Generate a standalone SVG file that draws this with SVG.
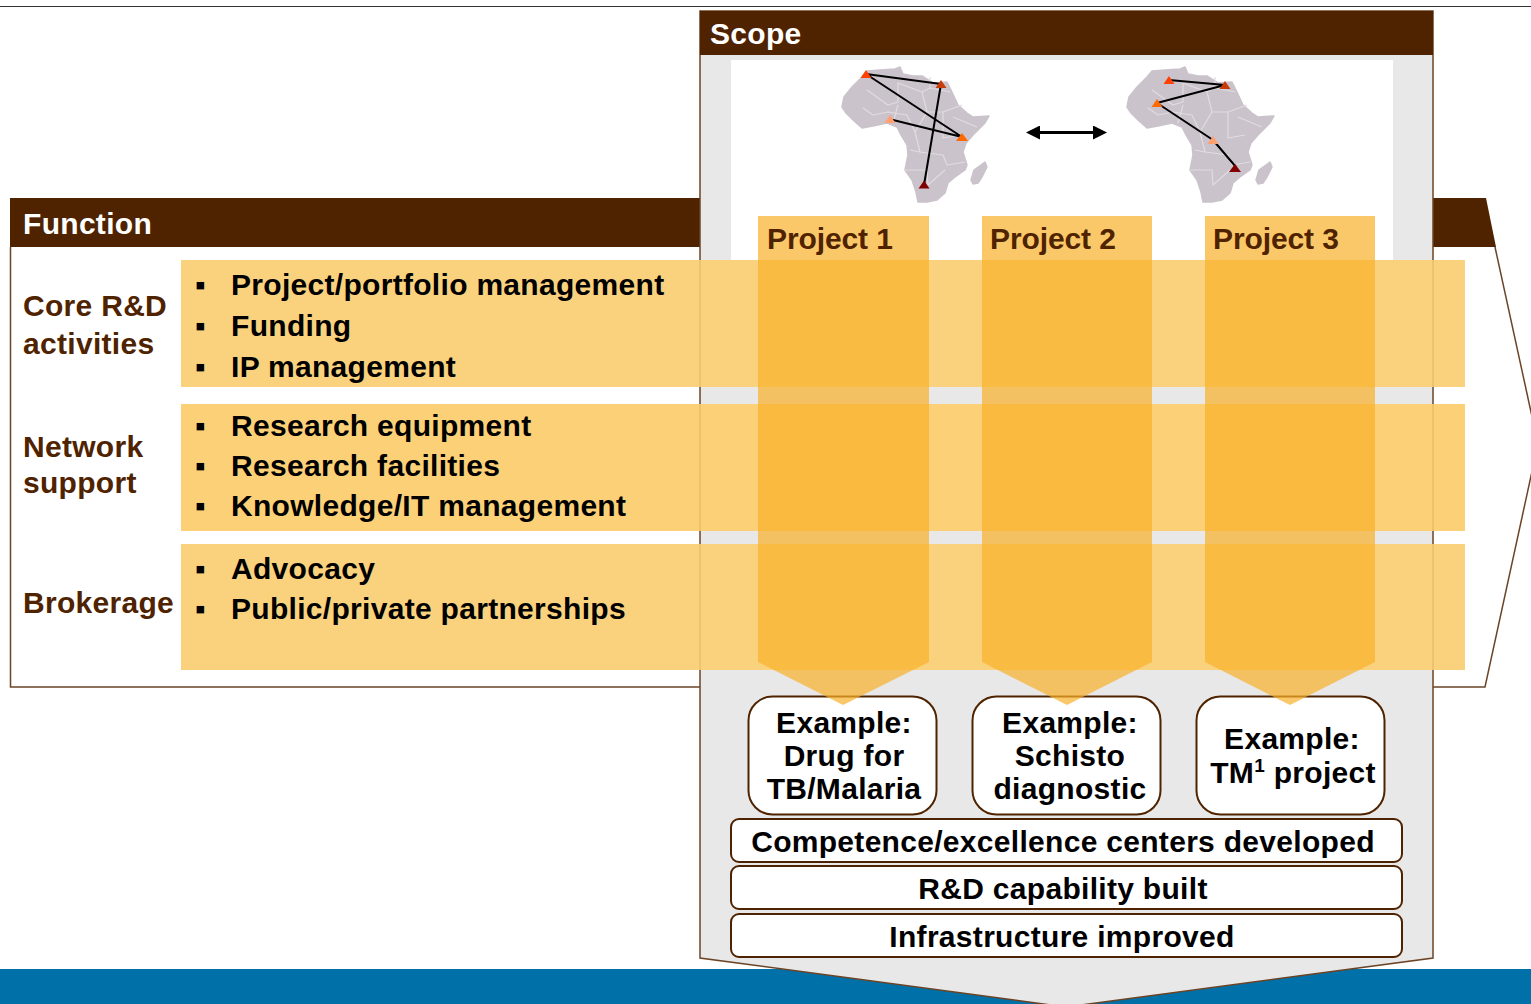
<svg xmlns="http://www.w3.org/2000/svg" width="1531" height="1004" viewBox="0 0 1531 1004">
<style>
text{font-family:"Liberation Sans",Arial,sans-serif;font-weight:700;letter-spacing:.3px}
.hd{fill:#fff;font-size:30px}
.cat{fill:#4f2300;font-size:30px}
.pl{fill:#4f2300;font-size:30px;letter-spacing:-.1px}
.it{fill:#000;font-size:30px}
.c{fill:#000;font-size:30px;text-anchor:middle}
.box{fill:#fff;stroke:#4f2300;stroke-width:2}
.band{fill:#fad27e}
.band2{fill:#fcd077}
.proj{fill:#fab02a;fill-opacity:.7}
.link{stroke:#000;stroke-width:2;fill:none}
.land{fill:#cbc3cb;stroke:#cbc3cb;stroke-width:1.500;stroke-linejoin:round}
.border{fill:none;stroke:#e0dce0;stroke-width:1.200;stroke-linejoin:round}
</style>
<defs>
<g id="africa">
<path class="land" d="M862 77 867 71 880 70 895 69 900 67 903 74 913 76 922 76 933 83 947 82 951 90 958 105 967 113 973 117 989 116 985 123 973 135 966 143 963 152 967 165 965 170 955 177 948 183 945 193 937 200 927 202 918 202 916 192 912 180 905 170 908 155 907 145 900 133 897 127 887 123 873 126 862 128 853 120 846 113 842 107 844 97 852 87Z"/>
<path class="land" d="M985 162 987 167 982 177 978 183 973 184 971 180 974 170Z"/>
<path class="border" d="M867 90 888 105 898 102 898 83 922 92 930 88 930 77M930 88 950 92M922 92 927 112 943 112 962 105M927 112 915 132 920 152 910 150M943 112 943 138 960 135M953 117 977 127M863 108 873 115 888 112 907 115 915 132M920 152 943 155 947 165 965 162M905 170 927 170 928 185 945 170M893 123 898 105"/>
</g>
<marker id="ah" markerUnits="userSpaceOnUse" markerWidth="14" markerHeight="14" viewBox="0 0 14 14" refX="7" refY="7" orient="auto-start-reverse"><path d="M0 0 14 7 0 14Z" fill="#000"/></marker>
</defs>
<path d="M0 6.500H1531" stroke="#333" stroke-width="1"/>
<rect x="0" y="969" width="1531" height="35" fill="#0070a8"/>
<g id="function">
<path d="M10.500 247V687H1485L1538 444 1495 247" fill="#fff" stroke="#6b4426" stroke-width="1.500"/>
<path d="M10 198H1486L1496 247H10Z" fill="#4f2300"/>
<text class="hd" x="23" y="234">Function</text>
</g>
<g id="scope">
<path d="M700 11H1433V958L1066 1007 700 958Z" fill="#e8e8e8" stroke="#6b4426" stroke-width="1.500"/>
<rect x="700" y="11" width="733" height="44" fill="#4f2300"/>
<rect x="731" y="60" width="662" height="200" fill="#fff"/>
<text class="hd" x="710" y="44">Scope</text>
</g>
<g id="maps">
<use href="#africa"/>
<use href="#africa" x="285"/>
</g>
<g id="connectors">
<path class="link" d="M866 74 941 84 M866 74 962 137 M889 119 962 137 M941 84 924 185"/>
<path class="link" d="M1169 80 1225 85 M1225 85 1157 103 M1157 103 1213 140 M1213 140 1236 167"/>
<path d="M1033 132.500H1100" stroke="#000" stroke-width="3" marker-start="url(#ah)" marker-end="url(#ah)"/>
</g>
<g id="triangles">
<path d="M866 70 871.500 78 860.500 78Z" fill="#ff4000"/><path d="M941 80 946.500 88 935.500 88Z" fill="#c83c0a"/><path d="M962 133 968 141 956 141Z" fill="#ff6a00"/><path d="M890 115 895.500 123 884.500 123Z" fill="#ffa070"/><path d="M924 180.500 929.500 188.500 918.500 188.500Z" fill="#800000"/>
<path d="M1169 76 1174.500 84 1163.500 84Z" fill="#ff4000"/><path d="M1225 81 1230.500 89 1219.500 89Z" fill="#c83c0a"/><path d="M1157 99 1162.500 107 1151.500 107Z" fill="#ff6a00"/><path d="M1213 136 1218.500 144 1207.500 144Z" fill="#ffa070"/><path d="M1235 164 1241 172 1229 172Z" fill="#800000"/>
</g>
<g id="examples">
<rect class="box" x="748.500" y="696.500" width="188" height="118" rx="24"/>
<rect class="box" x="972.500" y="696.500" width="188" height="118" rx="24"/>
<rect class="box" x="1196.500" y="696.500" width="188" height="118" rx="24"/>
<text class="c" x="844" y="733">Example:</text><text class="c" x="844" y="766">Drug for</text><text class="c" x="844" y="799">TB/Malaria</text>
<text class="c" x="1070" y="733">Example:</text><text class="c" x="1070" y="766">Schisto</text><text class="c" x="1070" y="799">diagnostic</text>
<text class="c" x="1292" y="749">Example:</text><text class="c" x="1293" y="783">TM<tspan font-size="19" dy="-11">1</tspan><tspan dy="11"> project</tspan></text>
</g>
<g id="outcomes">
<rect class="box" x="731" y="819" width="671" height="43" rx="8"/>
<rect class="box" x="731" y="866" width="671" height="43" rx="8"/>
<rect class="box" x="731" y="914" width="671" height="43" rx="8"/>
<text class="c" x="1063" y="852">Competence/excellence centers developed</text>
<text class="c" x="1063" y="899">R&amp;D capability built</text>
<text class="c" x="1062" y="947">Infrastructure improved</text>
</g>
<g id="bands">
<rect class="band" x="181" y="260" width="1284" height="127"/>
<rect class="band2" x="181" y="404" width="1284" height="127"/>
<rect class="band" x="181" y="544" width="1284" height="126"/>
<path d="M700 260V387M1433 260V387M700 404V531M1433 404V531M700 544V670M1433 544V670" stroke="#c89a4a" stroke-opacity=".35" stroke-width="1.500"/>
</g>
<g id="projects">
<path class="proj" d="M758 216H929V662L843 705 758 662Z"/>
<path class="proj" d="M982 216H1152V662L1067 705 982 662Z"/>
<path class="proj" d="M1205 216H1375V662L1290 705 1205 662Z"/>
<text class="pl" x="767" y="249">Project 1</text>
<text class="pl" x="990" y="249">Project 2</text>
<text class="pl" x="1213" y="249">Project 3</text>
</g>
<g id="labels">
<text class="cat" x="23" y="316">Core R&amp;D</text><text class="cat" x="23" y="354">activities</text>
<text class="cat" x="23" y="457">Network</text><text class="cat" x="23" y="493">support</text>
<text class="cat" x="23" y="613">Brokerage</text>
<text class="it" x="195" y="295">▪</text><text class="it" x="231" y="295">Project/portfolio management</text>
<text class="it" x="195" y="336">▪</text><text class="it" x="231" y="336">Funding</text>
<text class="it" x="195" y="377">▪</text><text class="it" x="231" y="377">IP management</text>
<text class="it" x="195" y="436">▪</text><text class="it" x="231" y="436">Research equipment</text>
<text class="it" x="195" y="476">▪</text><text class="it" x="231" y="476">Research facilities</text>
<text class="it" x="195" y="516">▪</text><text class="it" x="231" y="516">Knowledge/IT management</text>
<text class="it" x="195" y="579">▪</text><text class="it" x="231" y="579">Advocacy</text>
<text class="it" x="195" y="619">▪</text><text class="it" x="231" y="619">Public/private partnerships</text>
</g>
</svg>
